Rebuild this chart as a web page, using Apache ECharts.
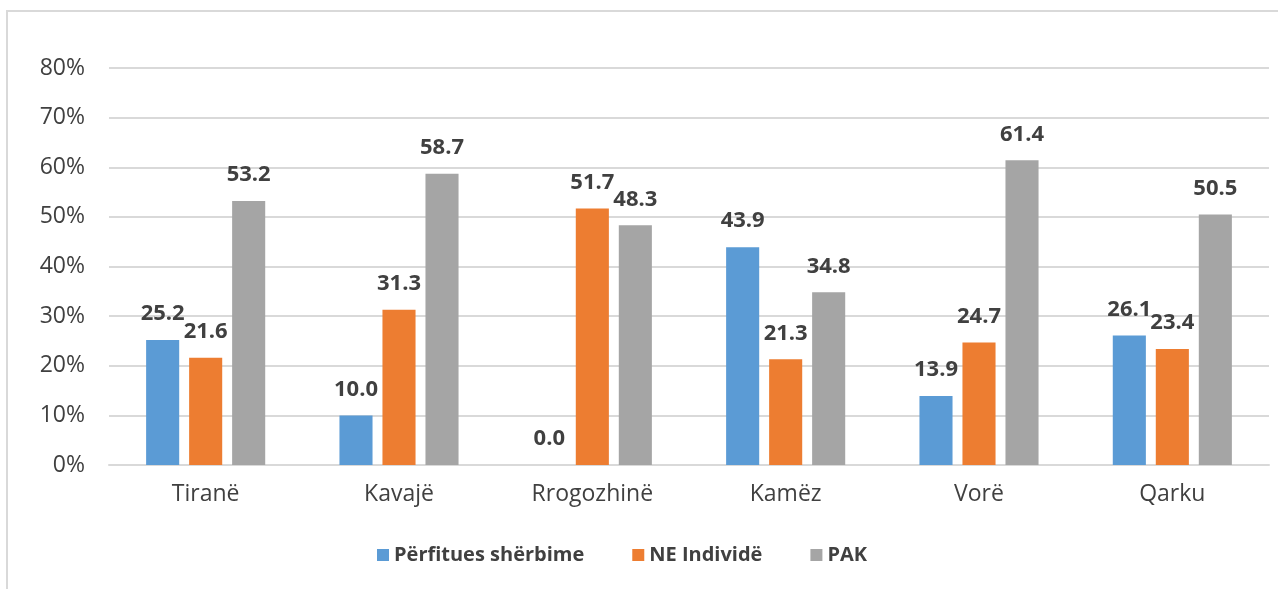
<!DOCTYPE html>
<html>
<head>
<meta charset="utf-8">
<script src="https://cdn.jsdelivr.net/npm/echarts@6/dist/echarts.min.js"></script>
<style>
  html, body { margin: 0; padding: 0; background: #ffffff; }
  #chart { width: 1278px; height: 589px; }
</style>
</head>
<body>
<div id="chart"></div>
<script>
// Municipalities and the regional total
const categories = ['Tiranë', 'Kavajë', 'Rrogozhinë', 'Kamëz', 'Vorë', 'Qarku'];
// Share (%) per group
const perfituesSherbime = [25.2, 10.0, 0.0, 43.9, 13.9, 26.1];
const neIndivide = [21.6, 31.3, 51.7, 21.3, 24.7, 23.4];
const pak = [53.2, 58.7, 48.3, 34.8, 61.4, 50.5];
const seriesNames = ['Përfitues shërbime', 'NE Individë', 'PAK'];
const colors = ['#5B9BD5', '#ED7D31', '#A5A5A5'];

const FONT = '"Open Sans", "Noto Sans", sans-serif';

const chart = echarts.init(document.getElementById('chart'), null, { renderer: 'canvas' });

function barSeries(name, data, color) {
  return {
    name: name,
    type: 'bar',
    data: data,
    barGap: '30%',
    barCategoryGap: '38.4%',
    itemStyle: { color: color },
    label: {
      show: true,
      position: 'top',
      distance: 15,
      formatter: p => p.value.toFixed(1),
      fontFamily: FONT,
      fontSize: 22,
      fontWeight: 'bold',
      color: '#404040'
    }
  };
}

chart.setOption({
  animation: false,
  color: colors,
  graphic: [{
    type: 'rect',
    shape: { x: 7, y: 11, width: 1400, height: 700 },
    style: { fill: 'none', stroke: '#d9d9d9', lineWidth: 2 },
    silent: true,
    z: -10
  }],
  grid: { left: 109, right: 9, top: 68, bottom: 124, containLabel: false },
  legend: {
    top: 540,
    left: 372,
    itemWidth: 12,
    itemHeight: 12,
    itemGap: 48,
    icon: 'rect',
    textStyle: { fontFamily: FONT, fontSize: 20, fontWeight: 'bold', color: '#404040' },
    data: seriesNames
  },
  xAxis: {
    type: 'category',
    data: categories,
    axisTick: { show: false },
    axisLine: { show: true, lineStyle: { color: '#d9d9d9', width: 2 } },
    axisLabel: { fontFamily: FONT, fontSize: 23, color: '#404040', margin: 18 }
  },
  yAxis: {
    type: 'value',
    min: 0,
    max: 80,
    interval: 10,
    axisLine: { show: false },
    axisTick: { show: false },
    splitLine: { lineStyle: { color: '#d9d9d9', width: 2 } },
    axisLabel: { fontFamily: FONT, fontSize: 23, color: '#404040', margin: 24, formatter: '{value}%' }
  },
  series: [
    barSeries(seriesNames[0], perfituesSherbime, colors[0]),
    barSeries(seriesNames[1], neIndivide, colors[1]),
    barSeries(seriesNames[2], pak, colors[2])
  ]
});
</script>
</body>
</html>
